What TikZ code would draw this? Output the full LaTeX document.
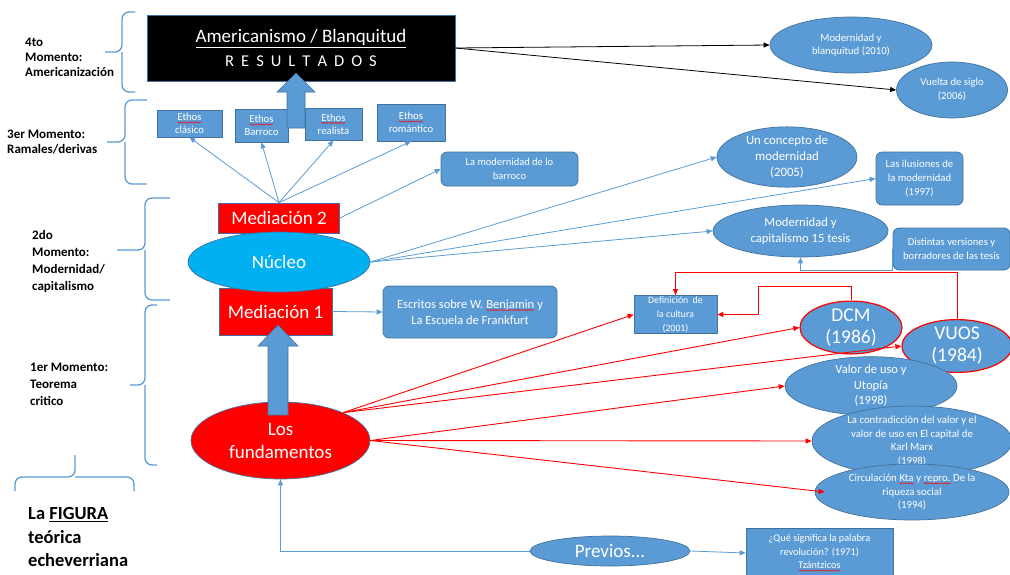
\documentclass[tikz,border=0pt]{standalone}
\usepackage{fontspec}
\setmainfont{Carlito}
\newfontfamily\espaciada[LetterSpace=20]{Carlito}
\usetikzlibrary{arrows.meta,shapes.geometric,decorations.pathmorphing}
\definecolor{azul}{HTML}{5B9BD5}
\definecolor{azulosc}{HTML}{41719C}
\definecolor{cian}{HTML}{00B0F0}
\newcommand\ondulado[1]{\tikz[baseline=(t.base)]{\node[shape=rectangle, draw=none, fill=none,
    inner sep=0pt, outer sep=0pt, minimum width=0pt, minimum height=0pt, text=white] (t) {#1};
  \draw[red, fill=none, sharp corners, line width=0.4pt, decorate,
    decoration={snake, amplitude=0.6pt, segment length=2.2pt}]
    ([yshift=-1.8pt]t.base west) -- ([yshift=-1.8pt]t.base east);}}
\newcommand\fs[2]{\fontsize{#1}{#2}\selectfont}

\begin{document}
\begin{tikzpicture}[x=1pt, y=-1pt,
  caja/.style = {draw=azulosc, line width=0.7pt, fill=azul, text=white,
    align=center, inner sep=1pt},
  cajar/.style = {caja, rounded corners=6pt},
  elip/.style = {ellipse, caja, inner sep=0pt},
  roja/.style = {caja, fill=red},
  etiq/.style = {anchor=west, align=left, inner sep=0pt, font=\bfseries\fs{13}{17}},
  flecha/.style = {azul, line width=0.8pt, -{Triangle[length=6pt,width=5pt]}},
  flechar/.style = {red, line width=0.9pt, -{Triangle[length=6pt,width=5pt]}},
  flechan/.style = {black, line width=0.8pt, -{Triangle[length=6pt,width=5pt]}},
  llave/.style = {azul, line width=1.3pt, rounded corners=7pt}]
  \useasboundingbox (0,0) rectangle (1010,574);

  \draw[llave] (135,12) -| (122,52) -- (105,52);
  \draw[llave] (135,92) -| (122,52);
  \draw[llave] (147,100) -| (125,142) -- (107,142);
  \draw[llave] (147,184) -| (125,142);
  \draw[llave] (170,198) -| (145,250) -- (117,250);
  \draw[llave] (170,300) -| (145,250);
  \draw[llave] (157,305) -| (145,385) -- (130,385);
  \draw[llave] (157,465) -| (145,385);
  \draw[llave] (15,491) |- (75,477) -- (75,455);
  \draw[llave] (134,491) |- (75,477);

  \node[etiq, font=\bfseries\fs{13}{15}] (m4) at (25,57) {4to\\Momento:\\Americanización};
  \node[etiq, font=\bfseries\fs{13}{15}] (m3) at (7,142.5) {3er Momento:\\Ramales/derivas};
  \node[etiq] (m2) at (32,261.5) {2do\\Momento:\\Modernidad/\\capitalismo};
  \node[etiq] (m1) at (30,384) {1er Momento:\\Teorema\\critico};
  \node[etiq, font=\bfseries\fs{18.5}{23.5}] (figura) at (28,537) {La \underline{FIGURA}\\teórica\\echeverriana};

  \node[caja, fill=black, minimum width=308pt, minimum height=66pt, font=\fs{19}{24}] (res) at (301,48)
    {\underline{Americanismo / Blanquitud}\\{\espaciada\fs{16.5}{24}R E S U L T A D O S}};

  \node[caja, minimum width=65pt, minimum height=27pt, font=\fs{10.7}{13}] (eclas) at (189.5,123.5) {\ondulado{Ethos}\\clásico};
  \node[caja, minimum width=53pt, minimum height=33pt, font=\fs{10.7}{13}] (ebarr) at (261.5,125.5) {\ondulado{Ethos}\\Barroco};
  \node[caja, minimum width=57pt, minimum height=32pt, font=\fs{10.7}{13}] (ereal) at (333.5,124) {\ondulado{Ethos}\\realista};
  \node[caja, minimum width=68pt, minimum height=37pt, font=\fs{10.7}{13}] (eroma) at (411,122.5) {\ondulado{Ethos}\\romántico};
  \node[cajar, minimum width=137pt, minimum height=34pt, font=\fs{10.5}{14}] (barroco) at (509.5,169) {La modernidad de lo\\barroco};

  \node[roja, minimum width=121pt, minimum height=30pt, font=\fs{19}{22}] (med2) at (279,218) {Mediación 2};
  \node[roja, minimum width=113pt, minimum height=47pt, font=\fs{19}{22}] (med1) at (275.5,311.5) {Mediación 1};
  \node[elip, fill=cian, minimum width=182pt, minimum height=60pt, font=\fs{19}{22}] (nucleo) at (279,262) {Núcleo};
  \node[cajar, minimum width=174pt, minimum height=52pt, font=\fs{12.5}{16}] (escritos) at (470,312)
    {Escritos sobre W. \ondulado{Benjamin} y\\La Escuela de Frankfurt};
  \node[elip, fill=red, minimum width=179pt, minimum height=77pt, font=\fs{19}{23}] (fund) at (280.5,440.5) {Los\\fundamentos};

  \node[elip, minimum width=162pt, minimum height=56pt, font=\fs{10.7}{13}] (blanq) at (851,45) {Modernidad y\\blanquitud (2010)};
  \node[elip, minimum width=111pt, minimum height=56pt, font=\fs{10.7}{14}] (vuelta) at (952,90) {Vuelta de siglo\\(2006)};
  \node[elip, minimum width=140pt, minimum height=55pt, font=\fs{12.8}{16}] (concepto) at (787,157) {Un concepto de\\modernidad\\(2005)};
  \node[cajar, minimum width=87pt, minimum height=53pt, font=\fs{10.7}{14}] (ilusiones) at (919.5,178.5) {Las ilusiones de\\la modernidad\\(1997)};
  \node[elip, minimum width=175pt, minimum height=52pt, font=\fs{12.6}{16}] (capit) at (800.5,231) {Modernidad y\\capitalismo 15 tesis};
  \node[cajar, minimum width=117pt, minimum height=42pt, font=\fs{10.6}{14}] (versiones) at (951.5,249) {Distintas versiones y\\borradores de las tesis};
  \node[caja, minimum width=83pt, minimum height=37pt, font=\fs{9.8}{14}] (cultura) at (675.5,314.5) {Definición~~de\\la cultura\\(2001)};
  \node[elip, draw=red, line width=1.2pt, minimum width=102pt, minimum height=45pt, font=\fs{19.5}{22}] (dcm) at (851,327.5) {DCM\\(1986)};
  \node[elip, draw=red, line width=1.2pt, minimum width=110pt, minimum height=44pt, font=\fs{19.5}{22}] (vuos) at (957,346) {VUOS\\(1984)};
  \node[elip, minimum width=172pt, minimum height=44pt, font=\fs{12.5}{15.5}] (valor) at (871,386) {Valor de uso y\\Utopía\\(1998)};
  \node[elip, minimum width=200pt, minimum height=62pt, font=\fs{10.8}{13.5}] (contra) at (912,441)
    {La contradicción del valor y el\\valor de uso en El capital de\\Karl Marx\\(1998)};
  \node[elip, minimum width=194pt, minimum height=56pt, font=\fs{10.8}{13.5}] (circ) at (912,492)
    {Circulación \ondulado{Kta} y \ondulado{repro.} De la\\riqueza social\\(1994)};
  \node[elip, minimum width=160pt, minimum height=30pt, font=\fs{19}{20}] (previos) at (610,551) {Previos...};
  \node[caja, minimum width=147pt, minimum height=50pt, font=\fs{10.3}{13.5}] (revol) at (819.5,553)
    {¿Qué significa la palabra\\revolución? (1971)\\\ondulado{Tzántzicos}};

  \filldraw[fill=azul, draw=azulosc, line width=0.6pt] (287,128) -- (287,92) -- (277,92) -- (296,73)
    -- (315,92) -- (305,92) -- (305,128) -- cycle;
  \filldraw[fill=azul, draw=azulosc, line width=0.6pt] (268,415) -- (268,346) -- (258,346) -- (278,325)
    -- (298,346) -- (288,346) -- (288,415) -- cycle;

  \draw[flechan] (res.east) -- (blanq.west);
  \draw[flechan] (res.east) -- (vuelta.west);

  \foreach \destino in {eclas, ebarr, ereal, eroma}
    \draw[flecha] (med2.north) -- (\destino.south);
  \draw[flecha] (med2.east) -- (barroco.west);
  \draw[flecha] (med1.east) -- (escritos.west);
  \foreach \destino in {concepto, ilusiones, capit}
    \draw[flecha] (nucleo.east) -- (\destino.west);
  \draw[flecha] (versiones.west) -- ++(0,21) -| (capit.south);

  \coordinate (fsup) at (fund.24);
  \foreach \destino in {cultura, dcm, vuos}
    \draw[flechar] (fsup) -- (\destino.west);
  \foreach \destino in {valor, contra}
    \draw[flechar] (fund.east) -- (\destino.west);
  \draw[flechar] (fund.east) -- ([xshift=10pt]circ.west);
  \coordinate (dcodo) at (758,286);
  \draw[flechar] (vuos.north) -- ++(0,-47) -| (cultura.north);
  \draw[flechar] (dcm.north) |- (dcodo) |- (cultura.east);

  \draw[flecha] (previos.west) -| (fund.south);
  \draw[flecha] (previos.east) -- (revol.west);
\end{tikzpicture}
\end{document}
